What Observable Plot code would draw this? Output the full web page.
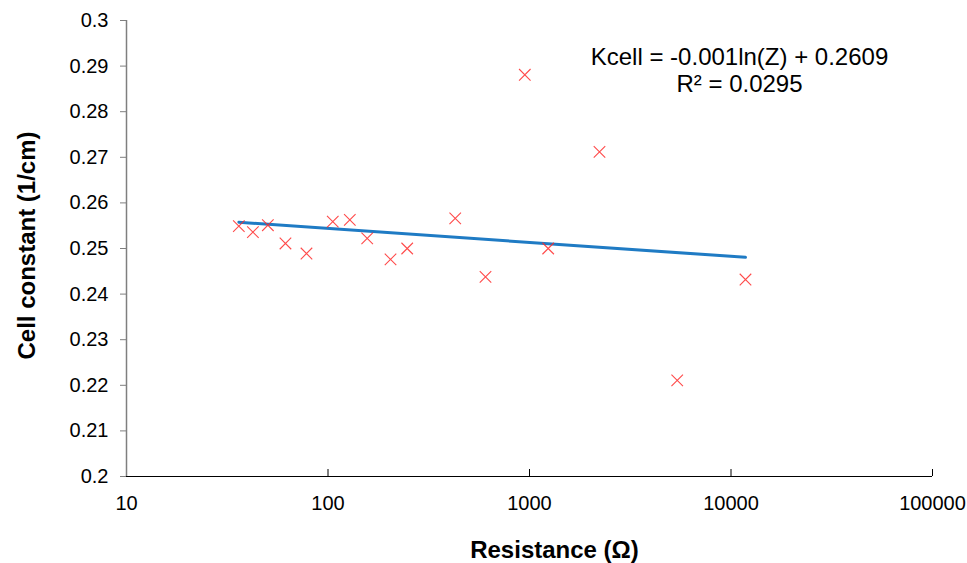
<!DOCTYPE html>
<html>
<head>
<meta charset="utf-8">
<script src="https://cdn.jsdelivr.net/npm/d3@7"></script>
<script src="https://cdn.jsdelivr.net/npm/@observablehq/plot@0.6"></script>
<style>
  html, body { margin: 0; padding: 0; background: #fff; }
  #chart svg { display: block; }
</style>
</head>
<body>
<div id="chart"></div>
<script>
// Resistance (Ω) of each measurement
const resistance = [36.1, 42.4, 50.3, 61.5, 78.2, 105.6, 128.3, 156.5, 204.3, 247.2, 427.9, 604.8, 947.8, 1238, 2225, 5408, 11800];
// Cell constant (1/cm)
const cellConstant = [0.2549, 0.2536, 0.2551, 0.2511, 0.2489, 0.2559, 0.2563, 0.2522, 0.2476, 0.2500, 0.2566, 0.2438, 0.2881, 0.2500, 0.2712, 0.2211, 0.2432];

const xTicks = [10, 100, 1000, 10000, 100000];
const yTicks = [0.2, 0.21, 0.22, 0.23, 0.24, 0.25, 0.26, 0.27, 0.28, 0.29, 0.3];
const yTickLabels = ["0.2", "0.21", "0.22", "0.23", "0.24", "0.25", "0.26", "0.27", "0.28", "0.29", "0.3"];
const xLabel = "Resistance (Ω)";
const yLabel = "Cell constant (1/cm)";
const equationText = "Kcell = -0.001ln(Z) + 0.2609\nR² = 0.0295";

const points = resistance.map((r, i) => ({r, k: cellConstant[i]}));

// logarithmic trend line: least squares of K against ln(Z)
const lx = resistance.map(Math.log);
const mx = d3.mean(lx), my = d3.mean(cellConstant);
const slope = d3.sum(lx, (v, i) => (v - mx) * (cellConstant[i] - my)) / d3.sum(lx, v => (v - mx) ** 2);
const intercept = my - slope * mx;
const zExtent = d3.extent(resistance);
const trend = zExtent.map(z => ({r: z, k: slope * Math.log(z) + intercept}));

const W = 967, H = 563, mL = 126, mR = 35, mT = 20, mB = 87;
const innerH = H - mT - mB;

const chart = Plot.plot({
  width: W,
  height: H,
  marginLeft: mL,
  marginRight: mR,
  marginTop: mT,
  marginBottom: mB,
  style: {fontFamily: "'Liberation Sans', Arial, sans-serif", color: "#000", background: "#fff"},
  x: {type: "log", domain: [xTicks[0], xTicks[xTicks.length - 1]]},
  y: {domain: [yTicks[0], yTicks[yTicks.length - 1]]},
  marks: [
    Plot.axisY({ticks: yTicks, tickFormat: (d, i) => yTickLabels[i], tickSize: 6, tickPadding: 12, fontSize: 20, stroke: "#7f7f7f", label: null}),
    Plot.axisX({ticks: xTicks, tickFormat: d3.format("d"), tickSize: 0, tickPadding: 19, fontSize: 20, label: null}),
    Plot.ruleX(xTicks, {stroke: "#000", insetTop: innerH - 7}),
    Plot.ruleX([xTicks[0]], {stroke: "#7f7f7f", strokeWidth: 1.5}),
    Plot.ruleY([yTicks[0]], {stroke: "#000"}),
    Plot.line(trend, {x: "r", y: "k", stroke: "#1f7bc4", strokeWidth: 3}),
    Plot.dot(points, {x: "r", y: "k", symbol: "times", r: 5.3, stroke: "#ff2a2a", strokeWidth: 1.1, strokeOpacity: 0.85}),
    Plot.text([equationText], {frameAnchor: "top", dx: 210, dy: 25, lineAnchor: "top", lineHeight: 1.125, fontSize: 24, fill: "#000"}),
    Plot.text([xLabel], {frameAnchor: "bottom", dx: 25, dy: 74, lineAnchor: "middle", fontSize: 24, fontWeight: "bold", fill: "#000"}),
    Plot.text([yLabel], {frameAnchor: "left", textAnchor: "middle", rotate: -90, dx: -99, dy: -3, lineAnchor: "middle", fontSize: 24, fontWeight: "bold", fill: "#000"})
  ]
});
document.getElementById("chart").appendChild(chart);
</script>
</body>
</html>
